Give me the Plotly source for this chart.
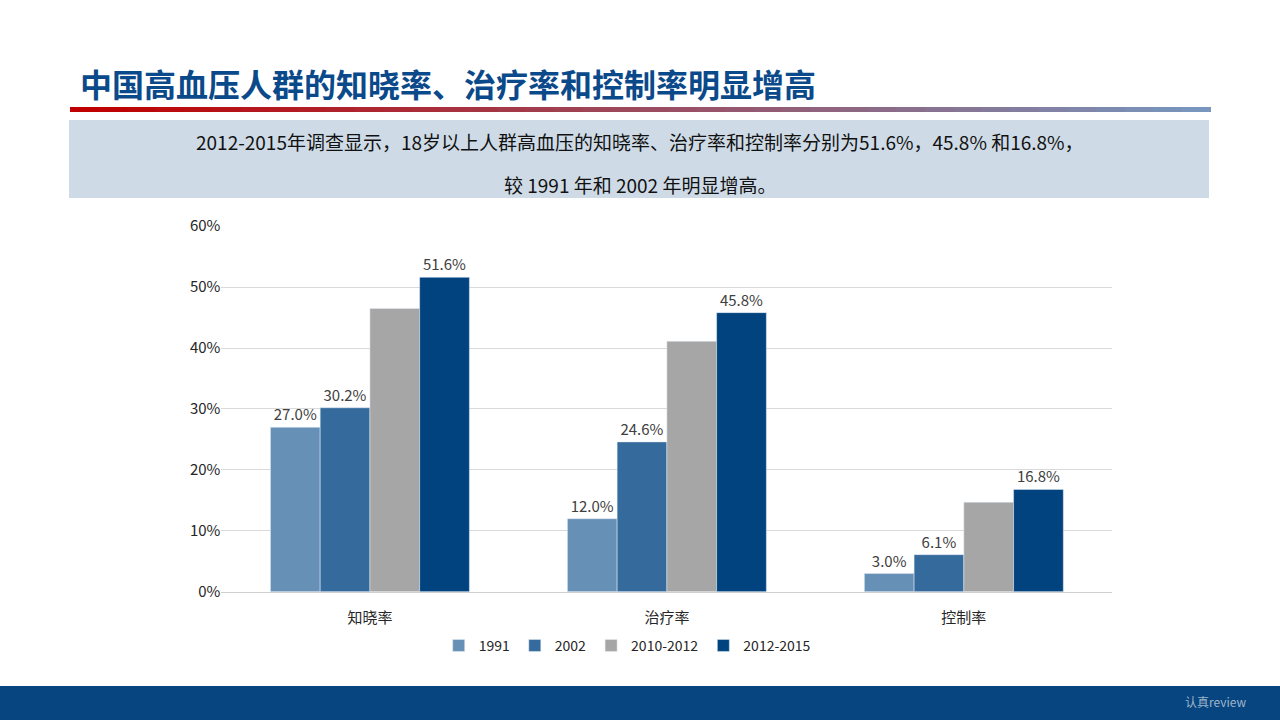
import plotly.graph_objects as go

categories = ["知晓率", "治疗率", "控制率"]
series_names = ["1991", "2002", "2010-2012", "2012-2015"]
v1991 = [27.0, 12.0, 3.0]
v2002 = [30.2, 24.6, 6.1]
v2010 = [46.5, 41.1, 14.7]
v2012 = [51.6, 45.8, 16.8]
colors = ["#6790b7", "#356a9c", "#a6a6a6", "#00437f"]
show_labels = [True, True, False, True]

font = "Noto Sans CJK SC"
fig = go.Figure()
for name, vals, col, lab in zip(series_names, [v1991, v2002, v2010, v2012], colors, show_labels):
    fig.add_trace(go.Bar(
        x=categories, y=[v / 100 for v in vals], name=name, marker_color=col,
        text=[f"{v:.1f}%" for v in vals] if lab else None,
        textposition="outside", textfont=dict(size=15, color="#404040"),
        cliponaxis=False,
    ))

fig.update_layout(
    autosize=False, width=1280, height=720,
    margin=dict(l=0, r=0, t=0, b=0, pad=0, autoexpand=False),
    paper_bgcolor="white", plot_bgcolor="white",
    font=dict(family=font, color="#262626"),
    barmode="group", bargap=0.33, bargroupgap=0,
    xaxis=dict(domain=[0.173, 0.869], showline=True, linecolor="#d0d0d0",
               tickfont=dict(size=15), ticks="", ticklabelstandoff=12),
    yaxis=dict(domain=[0.178, 0.686], range=[0, 0.6], dtick=0.1, tickformat=".0%",
               gridcolor="#d9d9d9", tickfont=dict(size=15), zeroline=False),
    legend=dict(orientation="h", x=0.49, xanchor="center", y=0.103, yanchor="middle",
                font=dict(size=14), itemwidth=30),
)

# title
fig.add_annotation(xref="paper", yref="paper", x=78 / 1280, y=1 - 83 / 720, xanchor="left",
                   yanchor="middle", showarrow=False,
                   text="<b>中国高血压人群的知晓率、治疗率和控制率明显增高</b>",
                   font=dict(size=32, color="#0b4a8a", family=font))
# gradient rule under title
n = 40
x0, x1 = 70, 1210
for i in range(n):
    t = i / (n - 1)
    r = int(192 + (120 - 192) * t)
    g = int(0 + (150 - 0) * t)
    b = int(0 + (190 - 0) * t)
    fig.add_shape(type="rect", xref="paper", yref="paper",
                  x0=(x0 + (x1 - x0) * i / n) / 1280, x1=(x0 + (x1 - x0) * (i + 1) / n + 1) / 1280,
                  y0=1 - 112 / 720, y1=1 - 107 / 720, line_width=0, fillcolor=f"rgb({r},{g},{b})")
# info box
fig.add_shape(type="rect", xref="paper", yref="paper", x0=69 / 1280, x1=1209 / 1280,
              y0=1 - 198 / 720, y1=1 - 120 / 720, line_width=0, fillcolor="#cedbe6")
fig.add_annotation(xref="paper", yref="paper", x=0.5, y=1 - 126 / 720, showarrow=False,
                   text="2012-2015年调查显示，18岁以上人群高血压的知晓率、治疗率和控制率分别为51.6%，45.8% 和16.8%，",
                   font=dict(size=19, color="#111111", family=font))
fig.add_annotation(xref="paper", yref="paper", x=0.5, y=1 - 169 / 720, showarrow=False,
                   text="较 1991 年和 2002 年明显增高。",
                   font=dict(size=19, color="#111111", family=font))
# footer
fig.add_shape(type="rect", xref="paper", yref="paper", x0=0, x1=1, y0=0, y1=1 - 686 / 720,
              line_width=0, fillcolor="#06457f")
fig.add_annotation(xref="paper", yref="paper", x=1248 / 1280, y=1 - 712 / 720, xanchor="right",
                   showarrow=False, text="认真review", font=dict(size=12, color="#9fb4cc", family=font))

fig.write_html("out.html", config={"displayModeBar": False},
               post_script="document.body.style.margin='0';document.body.style.overflow='hidden';")
